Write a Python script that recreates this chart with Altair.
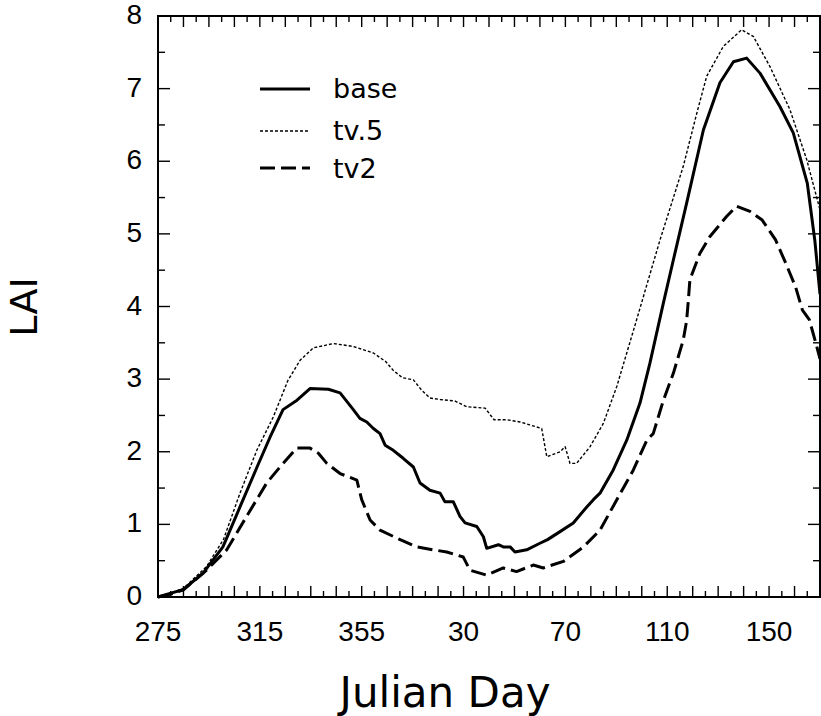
import altair as alt
import pandas as pd

# ---- data (day index runs 275..535, days after 365 belong to next year) ----
days_base = [275, 279.7, 284.8, 292.7, 300.5, 307.2, 313.9, 319, 324.1, 329.6, 334.7, 341.9, 346.5,
             349.7, 351.7, 354.3, 357, 359.6, 362.2, 364.2, 367.4, 371.3, 375.3, 377.9, 381.8, 385.8,
             387.7, 391, 393.6, 395.6, 400.2, 402.8, 404.1, 408.7, 410.6, 413.3, 415.2, 419.8, 425,
             428, 432.9, 438.1, 443.4, 446, 448.6, 453.8, 459.1, 464.3, 468.2, 473.5, 477.4, 482.6,
             489.2, 495.7, 501, 506.2, 511.5, 519.3, 524.5, 530, 533, 535]
lai_base = [0, 0.05, 0.10, 0.33, 0.69, 1.24, 1.79, 2.20, 2.58, 2.71, 2.87, 2.86, 2.81,
            2.67, 2.58, 2.46, 2.41, 2.32, 2.25, 2.09, 2.02, 1.91, 1.79, 1.57, 1.47, 1.43,
            1.31, 1.31, 1.11, 1.02, 0.97, 0.83, 0.67, 0.72, 0.69, 0.69, 0.62, 0.65, 0.74,
            0.79, 0.90, 1.02, 1.24, 1.34, 1.43, 1.75, 2.16, 2.67, 3.22, 4.05, 4.64, 5.42,
            6.43, 7.08, 7.37, 7.42, 7.21, 6.75, 6.39, 5.70, 4.90, 4.17]

days_tv5 = [275, 280, 285, 294.1, 300.7, 307.2, 313.8, 320.3, 326, 330.8, 336, 343.9, 351.7, 359.6,
            364.5, 367.4, 371, 375.3, 378.5, 381.8, 385.8, 391.5, 396.2, 403.5, 407, 412, 417.2,
            421, 425.7, 427.7, 432.9, 434.9, 436.8, 439.4, 444.7, 449.9, 455.2, 459.1, 463, 467,
            472.2, 481.3, 486.6, 490.5, 497, 504.2, 508.8, 515.4, 523.2, 529.8, 535]
lai_tv5 = [0, 0.05, 0.12, 0.42, 0.79, 1.43, 2.02, 2.48, 2.98, 3.26, 3.43, 3.49, 3.45, 3.36,
           3.24, 3.12, 3.02, 2.99, 2.85, 2.74, 2.72, 2.70, 2.62, 2.60, 2.44, 2.44, 2.41,
           2.37, 2.32, 1.93, 2.00, 2.07, 1.84, 1.84, 2.07, 2.39, 2.90, 3.36, 3.82, 4.30,
           4.92, 5.93, 6.66, 7.17, 7.58, 7.81, 7.72, 7.30, 6.71, 6.02, 5.33]

days_tv2 = [275, 280, 285, 294.1, 302, 309.8, 317.7, 322.9, 329.5, 334.7, 338, 341.3, 346.5, 353.1,
            355, 358.3, 362.2, 370.1, 376.6, 383.1, 388.4, 394.9, 397.5, 404.1, 410.6, 415.8,
            422.4, 426.3, 434.2, 442.1, 448.6, 455.2, 461.7, 467, 469.5, 473.5, 477.4, 481.3,
            482.6, 483.3, 483.9, 487.8, 491.7, 498.3, 502.2, 507.5, 512.3, 517.5, 521.5, 525.4,
            528.1, 530.8, 533.4, 535]
lai_tv2 = [0, 0.04, 0.10, 0.37, 0.65, 1.11, 1.57, 1.79, 2.05, 2.05, 1.98, 1.84, 1.70, 1.61,
           1.34, 1.06, 0.92, 0.79, 0.69, 0.65, 0.62, 0.55, 0.37, 0.30, 0.40, 0.35,
           0.44, 0.40, 0.49, 0.69, 0.92, 1.34, 1.75, 2.16, 2.25, 2.71, 3.08, 3.54,
           3.80, 4.09, 4.37, 4.73, 4.96, 5.24, 5.38, 5.31, 5.19, 4.92, 4.60, 4.27,
           3.95, 3.82, 3.49, 3.28]

series_names = ["base", "tv.5", "tv2"]
x_label_values = [275, 315, 355, 395, 435, 475, 515]
y_label_values = [0, 1, 2, 3, 4, 5, 6, 7, 8]
x_tick_values = list(range(275, 536, 5))
y_tick_values = [i * 0.5 for i in range(17)]
x_title = "Julian Day"
y_title = "LAI"

W, H = 662, 581
X0, X1, Y0, Y1 = 275, 535, 0, 8
kx = W / (X1 - X0)   # px per day
ky = H / (Y1 - Y0)   # px per LAI unit
xscale = alt.Scale(domain=[X0, X1], nice=False, zero=False)
yscale = alt.Scale(domain=[Y0, Y1], nice=False, zero=True)

styles = {
    "base": dict(strokeWidth=3),
    "tv.5": dict(strokeWidth=1.4, strokeDash=[3, 2]),
    "tv2": dict(strokeWidth=3, strokeDash=[15, 6]),
}

layers = []
# ---- the three curves ----
for name, dd, vv in zip(series_names, [days_base, days_tv5, days_tv2], [lai_base, lai_tv5, lai_tv2]):
    sdf = pd.DataFrame({"day": dd, "lai": vv})
    layers.append(
        alt.Chart(sdf).mark_line(color="black", strokeJoin="round", **styles[name])
        .encode(x=alt.X("day:Q", scale=xscale, axis=None),
                y=alt.Y("lai:Q", scale=yscale, axis=None),
                order="day:Q")
    )

# ---- inward ticks on all four sides, each a two-point line through the scales ----
tick_rows = []
tid = 0
for v in x_tick_values:
    L = 11 if (v - X0) % 10 == 0 else 6
    for base_y, sgn in [(Y0, 1), (Y1, -1)]:
        tick_rows.append({"id": tid, "k": 0, "tx": v, "ty": base_y})
        tick_rows.append({"id": tid, "k": 1, "tx": v, "ty": base_y + sgn * L / ky})
        tid += 1
for v in y_tick_values:
    L = 12 if v == int(v) else 7
    for base_x, sgn in [(X0, 1), (X1, -1)]:
        tick_rows.append({"id": tid, "k": 0, "tx": base_x, "ty": v})
        tick_rows.append({"id": tid, "k": 1, "tx": base_x + sgn * L / kx, "ty": v})
        tid += 1
ticks_df = pd.DataFrame(tick_rows)
layers.append(
    alt.Chart(ticks_df).mark_line(color="black", strokeWidth=1.4)
    .encode(x=alt.X("tx:Q", scale=xscale, axis=None),
            y=alt.Y("ty:Q", scale=yscale, axis=None),
            detail="id:N", order="k:Q")
)

# ---- tick labels ----
layers.append(
    alt.Chart(pd.DataFrame({"xv": x_label_values}))
    .transform_calculate(xlab="datum.xv > 365 ? datum.xv - 365 : datum.xv")
    .mark_text(font="Liberation Sans", fontSize=28, color="black", align="center", baseline="top")
    .encode(x=alt.X("xv:Q", scale=xscale, axis=None), y=alt.value(H + 22), text="xlab:N")
)
layers.append(
    alt.Chart(pd.DataFrame({"yv": y_label_values}))
    .transform_calculate(ylab="format(datum.yv, 'd')")
    .mark_text(font="Liberation Sans", fontSize=28, color="black", align="right", baseline="middle")
    .encode(y=alt.Y("yv:Q", scale=yscale, axis=None), x=alt.value(-16), text="ylab:N")
)

# ---- axis titles ----
layers.append(
    alt.Chart(pd.DataFrame({"t": [x_title]}))
    .mark_text(font="DejaVu Sans", fontSize=42, color="black", align="center", baseline="alphabetic")
    .encode(x=alt.value(287), y=alt.value(H + 110), text="t:N")
)
layers.append(
    alt.Chart(pd.DataFrame({"t": [y_title]}))
    .mark_text(font="DejaVu Sans", fontSize=38, color="black", align="center", baseline="alphabetic",
               angle=270)
    .encode(x=alt.value(-121), y=alt.value(291), text="t:N")
)

# ---- legend ----
legend_line_y = [73, 115, 152]
legend_text_y = [82, 124, 162]
for name, ly, ty in zip(series_names, legend_line_y, legend_text_y):
    ldf = pd.DataFrame({"name": [name]})
    layers.append(alt.Chart(ldf).mark_rule(color="black", **styles[name])
                  .encode(x=alt.value(102), x2=alt.value(152), y=alt.value(ly)))
    layers.append(alt.Chart(ldf).mark_text(align="left", baseline="alphabetic", font="DejaVu Sans",
                                           fontSize=27, color="black")
                  .encode(x=alt.value(175), y=alt.value(ty), text="name:N"))

chart = alt.layer(*layers).properties(
    width=W, height=H,
    autosize=alt.AutoSizeParams(type="none"),
    padding={"left": 158, "top": 16, "right": 1, "bottom": 119},
    background="white",
).configure_view(stroke="black", strokeWidth=2)

chart.save("out.html", embed_options={"renderer": "svg", "actions": False})
